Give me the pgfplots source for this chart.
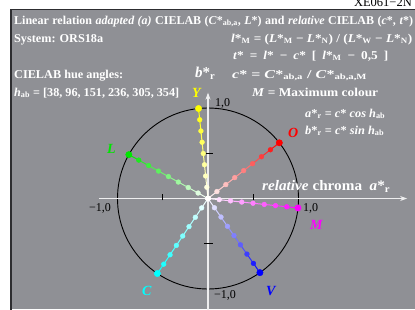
\documentclass[border=0pt]{standalone}
\usepackage{pgfplots}
\pgfplotsset{compat=1.18}
\usepgfplotslibrary{polar}
\usetikzlibrary{arrows.meta}
\usepackage{graphicx}
\usepackage{fontspec}
\setmainfont{Liberation Serif}
\definecolor{panel}{RGB}{143,144,149}
\definecolor{border}{RGB}{45,45,48}
\definecolor{cY}{RGB}{255,255,0}
\definecolor{cO}{RGB}{255,0,0}
\definecolor{cL}{RGB}{0,230,0}
\definecolor{cC}{RGB}{0,255,255}
\definecolor{cV}{RGB}{0,0,255}
\definecolor{cM}{RGB}{255,0,255}
\newcommand\fit[2]{\resizebox{#1}{\height}{#2}}
\newcommand\spread[2]{\makebox[#1][s]{#2}}
\begin{document}
\begin{tikzpicture}
\fill[panel] (11pt,0pt) rectangle (420pt,299.5pt);
\draw[border, line width=1.3pt] (11pt,-2pt) -- (11pt,299.5pt) -- (420pt,299.5pt);
\begin{axis}[at={(0pt,0pt)}, anchor=south west, width=415pt, height=309pt, scale only axis,
  xmin=-2.2983, xmax=2.2873, ymin=-1.2210, ymax=2.1934, hide axis, clip=false,
  point meta min=0, point meta max=1]
\draw[black, line width=0.9pt] (axis cs:0,0) circle[radius=1];
\draw[white!85!panel, line width=1.6pt, -{Stealth[length=7pt,width=5pt]}] (axis cs:-1.2,0) -- (axis cs:2.2,0);
\draw[white!85!panel, line width=1.6pt, -{Stealth[length=7pt,width=5pt]}] (axis cs:0,-1.25) -- (axis cs:0,1.17);
\draw[black, line width=0.8pt] (axis cs:0.5,-0.02) -- (axis cs:0.5,0.05);
\draw[black, line width=0.8pt] (axis cs:-0.5,-0.02) -- (axis cs:-0.5,0.05);
\draw[black, line width=0.8pt] (axis cs:-0.03,0.5) -- (axis cs:0.06,0.5);
\draw[black, line width=0.8pt] (axis cs:-0.04,-0.5) -- (axis cs:0.06,-0.5);
% O, h=38
\addplot[mesh, data cs=polar, colormap={mO}{color=(white) color=(cO)}, point meta=explicit, line width=1pt, forget plot]
 coordinates {(38,0)[0] (38,0.125)[0.125] (38,0.25)[0.25] (38,0.375)[0.375] (38,0.5)[0.5] (38,0.625)[0.625] (38,0.75)[0.75] (38,0.875)[0.875] (38,1)[1]};
\addplot[scatter, only marks, mark=*, mark size=2.4pt, data cs=polar, colormap={mO}{color=(white) color=(cO)}, point meta=explicit, scatter/use mapped color={draw=mapped color, fill=mapped color}, forget plot]
 coordinates {(38,0)[0] (38,0.125)[0.125] (38,0.25)[0.25] (38,0.375)[0.375] (38,0.5)[0.5] (38,0.625)[0.625] (38,0.75)[0.75] (38,0.875)[0.875]};
\addplot[only marks, mark=*, mark size=3.2pt, cO, data cs=polar, forget plot] coordinates {(38,1)};
% Y, h=96
\addplot[mesh, data cs=polar, colormap={mY}{color=(white) color=(cY)}, point meta=explicit, line width=1pt, forget plot]
 coordinates {(96,0)[0] (96,0.125)[0.125] (96,0.25)[0.25] (96,0.375)[0.375] (96,0.5)[0.5] (96,0.625)[0.625] (96,0.75)[0.75] (96,0.875)[0.875] (96,1)[1]};
\addplot[scatter, only marks, mark=*, mark size=2.4pt, data cs=polar, colormap={mY}{color=(white) color=(cY)}, point meta=explicit, scatter/use mapped color={draw=mapped color, fill=mapped color}, forget plot]
 coordinates {(96,0)[0] (96,0.125)[0.125] (96,0.25)[0.25] (96,0.375)[0.375] (96,0.5)[0.5] (96,0.625)[0.625] (96,0.75)[0.75] (96,0.875)[0.875]};
\addplot[only marks, mark=*, mark size=3.2pt, cY, data cs=polar, forget plot] coordinates {(96,1)};
% L, h=151
\addplot[mesh, data cs=polar, colormap={mL}{color=(white) color=(cL)}, point meta=explicit, line width=1pt, forget plot]
 coordinates {(151,0)[0] (151,0.125)[0.125] (151,0.25)[0.25] (151,0.375)[0.375] (151,0.5)[0.5] (151,0.625)[0.625] (151,0.75)[0.75] (151,0.875)[0.875] (151,1)[1]};
\addplot[scatter, only marks, mark=*, mark size=2.4pt, data cs=polar, colormap={mL}{color=(white) color=(cL)}, point meta=explicit, scatter/use mapped color={draw=mapped color, fill=mapped color}, forget plot]
 coordinates {(151,0)[0] (151,0.125)[0.125] (151,0.25)[0.25] (151,0.375)[0.375] (151,0.5)[0.5] (151,0.625)[0.625] (151,0.75)[0.75] (151,0.875)[0.875]};
\addplot[only marks, mark=*, mark size=3.2pt, cL, data cs=polar, forget plot] coordinates {(151,1)};
% C, h=236
\addplot[mesh, data cs=polar, colormap={mC}{color=(white) color=(cC)}, point meta=explicit, line width=1pt, forget plot]
 coordinates {(236,0)[0] (236,0.125)[0.125] (236,0.25)[0.25] (236,0.375)[0.375] (236,0.5)[0.5] (236,0.625)[0.625] (236,0.75)[0.75] (236,0.875)[0.875] (236,1)[1]};
\addplot[scatter, only marks, mark=*, mark size=2.4pt, data cs=polar, colormap={mC}{color=(white) color=(cC)}, point meta=explicit, scatter/use mapped color={draw=mapped color, fill=mapped color}, forget plot]
 coordinates {(236,0)[0] (236,0.125)[0.125] (236,0.25)[0.25] (236,0.375)[0.375] (236,0.5)[0.5] (236,0.625)[0.625] (236,0.75)[0.75] (236,0.875)[0.875]};
\addplot[only marks, mark=*, mark size=3.2pt, cC, data cs=polar, forget plot] coordinates {(236,1)};
% V, h=305
\addplot[mesh, data cs=polar, colormap={mV}{color=(white) color=(cV)}, point meta=explicit, line width=1pt, forget plot]
 coordinates {(305,0)[0] (305,0.125)[0.125] (305,0.25)[0.25] (305,0.375)[0.375] (305,0.5)[0.5] (305,0.625)[0.625] (305,0.75)[0.75] (305,0.875)[0.875] (305,1)[1]};
\addplot[scatter, only marks, mark=*, mark size=2.4pt, data cs=polar, colormap={mV}{color=(white) color=(cV)}, point meta=explicit, scatter/use mapped color={draw=mapped color, fill=mapped color}, forget plot]
 coordinates {(305,0)[0] (305,0.125)[0.125] (305,0.25)[0.25] (305,0.375)[0.375] (305,0.5)[0.5] (305,0.625)[0.625] (305,0.75)[0.75] (305,0.875)[0.875]};
\addplot[only marks, mark=*, mark size=3.2pt, cV, data cs=polar, forget plot] coordinates {(305,1)};
% M, h=354
\addplot[mesh, data cs=polar, colormap={mM}{color=(white) color=(cM)}, point meta=explicit, line width=1pt, forget plot]
 coordinates {(354,0)[0] (354,0.125)[0.125] (354,0.25)[0.25] (354,0.375)[0.375] (354,0.5)[0.5] (354,0.625)[0.625] (354,0.75)[0.75] (354,0.875)[0.875] (354,1)[1]};
\addplot[scatter, only marks, mark=*, mark size=2.4pt, data cs=polar, colormap={mM}{color=(white) color=(cM)}, point meta=explicit, scatter/use mapped color={draw=mapped color, fill=mapped color}, forget plot]
 coordinates {(354,0)[0] (354,0.125)[0.125] (354,0.25)[0.25] (354,0.375)[0.375] (354,0.5)[0.5] (354,0.625)[0.625] (354,0.75)[0.75] (354,0.875)[0.875]};
\addplot[only marks, mark=*, mark size=3.2pt, cM, data cs=polar, forget plot] coordinates {(354,1)};
\addplot[only marks, mark=*, mark size=2.6pt, white, forget plot] coordinates {(0,0)};
\end{axis}
\begin{scope}[x=1pt, y=-1pt, shift={(0pt,309pt)}]
\fontsize{12}{14}\selectfont
\node[anchor=base east, inner sep=0pt, black, font=\fontsize{12.5}{14}\selectfont] at (412,6) {XE061−2N};
\node[anchor=base west, inner sep=0pt, white] at (14,24) {\spread{399pt}{\textbf{Linear relation \textit{adapted (a)} CIELAB (\textit{C}*\textsubscript{ab,a}, \textit{L}*) and \textit{relative} CIELAB (\textit{c}*, \textit{t}*)}}};
\node[anchor=base west, inner sep=0pt, white] at (14,42) {\fit{89pt}{\textbf{System: ORS18a}}};
\node[anchor=base west, inner sep=0pt, white] at (231,42) {\fit{181pt}{\textbf{\textit{l}*\textsubscript{M} = (\textit{L}*\textsubscript{M} − \textit{L}*\textsubscript{N}) / (\textit{L}*\textsubscript{W} − \textit{L}*\textsubscript{N})}}};
\node[anchor=base west, inner sep=0pt, white] at (233,59) {\fit{155pt}{\spread{140pt}{\textbf{\textit{t}* = \textit{l}* − \textit{c}* [ \textit{l}*\textsubscript{M} − 0,5 ]}}}};
\node[anchor=base west, inner sep=0pt, white] at (14,78) {\fit{109pt}{\textbf{CIELAB hue angles:}}};
\node[anchor=base west, inner sep=0pt, white, font=\fontsize{15}{17}\selectfont] at (195,77) {\textbf{\textit{b}*\textsubscript{r}}};
\node[anchor=base west, inner sep=0pt, white] at (232,78) {\fit{135pt}{\textbf{\textit{c}* = \textit{C}*\textsubscript{ab,a} / \textit{C}*\textsubscript{ab,a,M}}}};
\node[anchor=base west, inner sep=0pt, white] at (14,96) {\fit{165pt}{\textbf{\textit{h}\textsubscript{ab} = [38, 96, 151, 236, 305, 354]}}};
\node[anchor=base west, inner sep=0pt, white] at (252,96) {\fit{126pt}{\textbf{\textit{M} = Maximum colour}}};
\node[anchor=base west, inner sep=0pt, white] at (305,117) {\fit{80pt}{\textbf{\textit{a}*\textsubscript{r} = \textit{c}* \textit{cos h}\textsubscript{ab}}}};
\node[anchor=base west, inner sep=0pt, white] at (305,134) {\fit{79pt}{\textbf{\textit{b}*\textsubscript{r} = \textit{c}* \textit{sin h}\textsubscript{ab}}}};
\node[anchor=base west, inner sep=0pt, white, font=\fontsize{14.5}{16}\selectfont] at (262,190) {\fit{128pt}{\textbf{\textit{relative} chroma\ \ \textit{a}*\textsubscript{r}}}};
\node[anchor=base west, inner sep=0pt, black] at (215,106) {1,0};
\node[anchor=base west, inner sep=0pt, black] at (89,211) {−1,0};
\node[anchor=base west, inner sep=0pt, black] at (303,211) {1,0};
\node[anchor=base west, inner sep=0pt, black] at (214,298) {−1,0};
\node[anchor=base west, inner sep=0pt, cY, font=\fontsize{14}{16}\selectfont\bfseries\itshape] at (192,97) {Y};
\node[anchor=base west, inner sep=0pt, cO, font=\fontsize{14}{16}\selectfont\bfseries\itshape] at (288,137) {O};
\node[anchor=base west, inner sep=0pt, cL, font=\fontsize{14}{16}\selectfont\bfseries\itshape] at (107,153) {L};
\node[anchor=base west, inner sep=0pt, cC, font=\fontsize{14}{16}\selectfont\bfseries\itshape] at (142,295) {C};
\node[anchor=base west, inner sep=0pt, cV, font=\fontsize{14}{16}\selectfont\bfseries\itshape] at (266,295) {V};
\node[anchor=base west, inner sep=0pt, cM, font=\fontsize{14}{16}\selectfont\bfseries\itshape] at (310,229) {M};
\end{scope}
\pgfresetboundingbox
\useasboundingbox (0pt,0pt) rectangle (415pt,309pt);
\end{tikzpicture}
\end{document}
